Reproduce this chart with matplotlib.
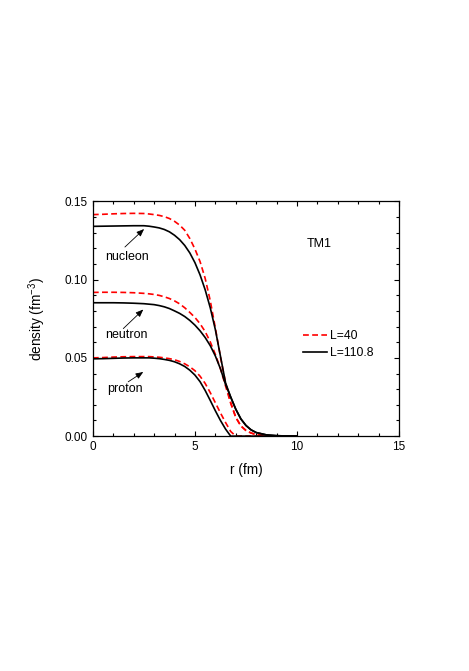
import numpy as np
import matplotlib
matplotlib.use("Agg")
import matplotlib.pyplot as plt

plt.rcParams['font.family'] = ['Liberation Sans', 'DejaVu Sans']
plt.rcParams['mathtext.fontset'] = 'custom'
plt.rcParams['mathtext.rm'] = 'Liberation Sans'

# radius grid (fm)
r = [0, 0.5, 1, 1.5, 2, 2.5, 2.75, 3, 3.25, 3.5, 3.75, 4, 4.25, 4.5, 4.75, 5,
     5.25, 5.5, 5.75, 6, 6.25, 6.5, 6.75, 7, 7.25, 7.5, 7.75, 8, 8.5, 9, 9.5, 10]

# L=40 (dashed red)
nucleon_L40 = [0.1415, 0.1417, 0.1420, 0.1422, 0.1423, 0.1422, 0.1419, 0.1415,
               0.1410, 0.1402, 0.1390, 0.1372, 0.1348, 0.1315, 0.1262, 0.1195,
               0.1115, 0.1008, 0.0865, 0.0690, 0.0505, 0.0340, 0.0215, 0.0120,
               0.0065, 0.0036, 0.0020, 0.0010, 0.0003, 0.0, 0.0, 0.0]
neutron_L40 = [0.0918, 0.0919, 0.0919, 0.0918, 0.0916, 0.0912, 0.0909, 0.0905,
               0.0899, 0.0890, 0.0879, 0.0864, 0.0845, 0.0820, 0.0790, 0.0758,
               0.0718, 0.0668, 0.0602, 0.0522, 0.0430, 0.0320, 0.0210, 0.0120,
               0.0065, 0.0036, 0.0020, 0.0010, 0.0003, 0.0, 0.0, 0.0]
proton_L40 = [0.0500, 0.0502, 0.0505, 0.0507, 0.0508, 0.0508, 0.0508, 0.0506,
              0.0504, 0.0500, 0.0495, 0.0488, 0.0477, 0.0462, 0.0443, 0.0418,
              0.0383, 0.0337, 0.0278, 0.0213, 0.0148, 0.0087, 0.0030, 0.0,
              0.0, 0.0, 0.0, 0.0, 0.0, 0.0, 0.0, 0.0]

# L=110.8 (solid black)
nucleon_L110 = [0.1340, 0.1341, 0.1342, 0.1343, 0.1344, 0.1344, 0.1341, 0.1336,
                0.1330, 0.1320, 0.1305, 0.1283, 0.1255, 0.1218, 0.1170, 0.1108,
                0.1030, 0.0935, 0.0820, 0.0680, 0.0510, 0.0340, 0.0250, 0.0172,
                0.0110, 0.0068, 0.0040, 0.0023, 0.0008, 0.0003, 0.0001, 0.0]
neutron_L110 = [0.0852, 0.0852, 0.0852, 0.0851, 0.0849, 0.0846, 0.0843, 0.0840,
                0.0834, 0.0826, 0.0815, 0.0800, 0.0784, 0.0764, 0.0739, 0.0709,
                0.0673, 0.0630, 0.0578, 0.0512, 0.0430, 0.0330, 0.0250, 0.0172,
                0.0110, 0.0068, 0.0040, 0.0023, 0.0008, 0.0003, 0.0001, 0.0]
proton_L110 = [0.0494, 0.0495, 0.0497, 0.0499, 0.0500, 0.0500, 0.0500, 0.0498,
               0.0495, 0.0490, 0.0484, 0.0475, 0.0462, 0.0445, 0.0421, 0.0390,
               0.0348, 0.0292, 0.0228, 0.0162, 0.0100, 0.0045, 0.0, 0.0,
               0.0, 0.0, 0.0, 0.0, 0.0, 0.0, 0.0, 0.0]

fig = plt.figure(figsize=(4.69, 6.71), dpi=100)
ax = fig.add_axes([0.198, 0.350, 0.653, 0.350])

dash = dict(color='red', lw=1.2, dashes=[3.5, 2.0])
solid = dict(color='black', lw=1.2)

ax.plot(r, nucleon_L40, label='L=40', **dash)
ax.plot(r, neutron_L40, **dash)
ax.plot(r, proton_L40, **dash)
ax.plot(r, nucleon_L110, label='L=110.8', **solid)
ax.plot(r, neutron_L110, **solid)
ax.plot(r, proton_L110, **solid)

ax.set_xlim(0, 15)
ax.set_ylim(0, 0.15)
ax.set_xticks([0, 5, 10, 15])
ax.set_xticks(np.arange(0, 15.1, 1), minor=True)
ax.set_yticks([0.0, 0.05, 0.10, 0.15])
ax.set_yticklabels(['0.00', '0.05', '0.10', '0.15'])
ax.set_yticks(np.arange(0, 0.151, 0.01), minor=True)
ax.tick_params(which='both', direction='in', top=True, right=True,
               labelsize=8.5, pad=3.5, width=0.8)
ax.tick_params(which='major', length=3.6)
ax.tick_params(which='minor', length=2.2)
for s in ax.spines.values():
    s.set_linewidth(0.9)

ax.set_xlabel('r (fm)', fontsize=9.8, labelpad=7)
ax.set_ylabel(r'density (fm$^{\mathregular{-3}}$)', fontsize=9.8, labelpad=12)

# annotations
ax.text(0.59, 0.1143, 'nucleon', fontsize=9, va='center', ha='left')
ax.text(0.62, 0.0645, 'neutron', fontsize=9, va='center', ha='left')
ax.text(0.70, 0.0300, 'proton', fontsize=9, va='center', ha='left')
arrow = dict(arrowstyle='-|>,head_length=0.45,head_width=0.18', color='black',
             lw=0.6, shrinkA=0, shrinkB=0)
ax.annotate('', xy=(2.51, 0.1323), xytext=(1.57, 0.1208), arrowprops=arrow)
ax.annotate('', xy=(2.47, 0.0809), xytext=(1.49, 0.0687), arrowprops=arrow)
ax.annotate('', xy=(2.47, 0.0410), xytext=(1.73, 0.0347), arrowprops=arrow)

ax.text(10.48, 0.123, 'TM1', fontsize=9, va='center', ha='left')

ax.legend(loc='upper left', bbox_to_anchor=(0.685, 0.452), frameon=False,
          fontsize=8.7, handlelength=2.0, handletextpad=0.27,
          labelspacing=0.45, borderpad=0, borderaxespad=0)

fig.savefig('out.png', dpi=100)
